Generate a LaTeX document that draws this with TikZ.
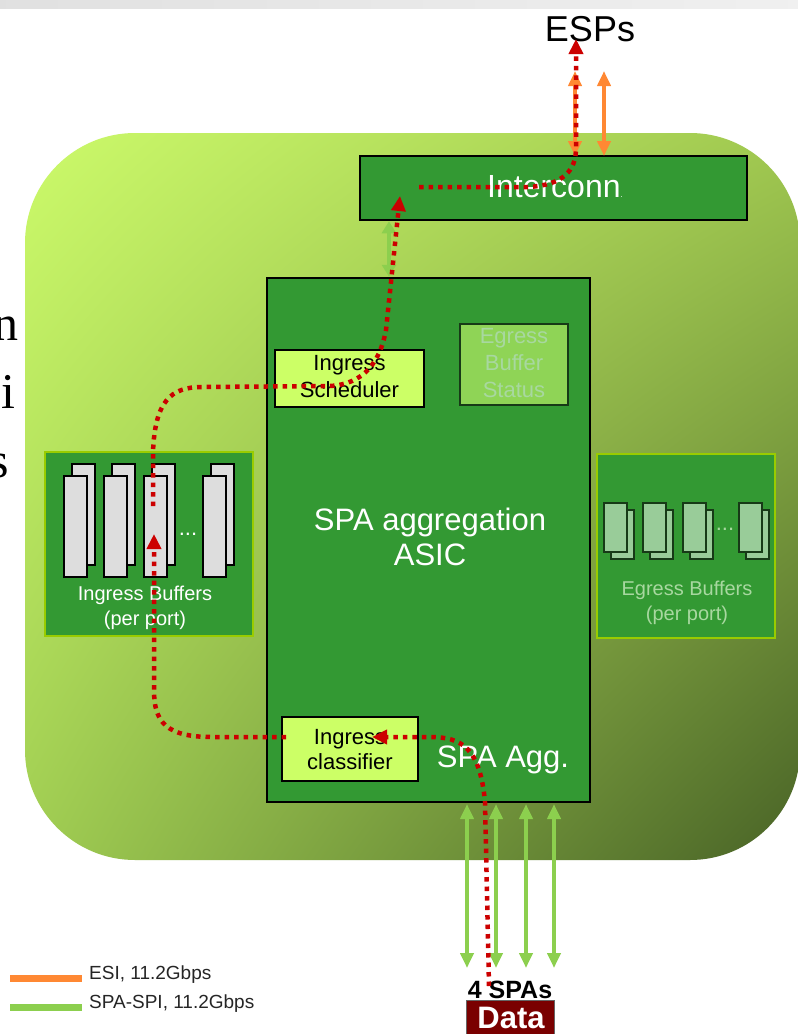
\documentclass[tikz,border=0pt]{standalone}
\usepackage{fontspec}
\setmainfont{Liberation Sans}
\newfontfamily\seriffont{Liberation Serif}
\usetikzlibrary{arrows.meta,shadings}
\definecolor{boxgreen}{HTML}{339933}
\definecolor{limeedge}{HTML}{99CC00}
\definecolor{paleyellow}{HTML}{CCFF66}
\definecolor{statusfill}{HTML}{8FD456}
\definecolor{paletext}{HTML}{A8D8A0}
\definecolor{flowred}{HTML}{CC0000}
\definecolor{esiorange}{HTML}{FF8833}
\definecolor{linkgreen}{HTML}{8CCF4E}
\definecolor{bufgrey}{HTML}{DDDDDD}
\definecolor{bufpale}{HTML}{99CC99}
\definecolor{bufedge}{HTML}{173A17}
\definecolor{datared}{HTML}{7A0000}
\newcommand\fsz[2]{\fontsize{#1}{#2}\selectfont}
\begin{document}
\begin{tikzpicture}[x=1pt,y=-1pt,
  redflow/.style={draw=flowred, line width=4.5pt, dash pattern=on 4.5pt off 5pt,
    -{Triangle[length=15pt,width=14pt]}},
  spalink/.style={draw=linkgreen, line width=4pt,
    {Triangle[length=15pt,width=13pt]}-{Triangle[length=15pt,width=13pt]}},
  shortlink/.style={draw=linkgreen, line width=4pt,
    {Triangle[length=12pt,width=14pt]}-{Triangle[length=12pt,width=14pt]}},
  esilink/.style={draw=esiorange, line width=4pt,
    {Triangle[length=15pt,width=13pt]}-{Triangle[length=15pt,width=13pt]}},
  darkbox/.style={draw=black, line width=2.5pt, fill=boxgreen, inner sep=0pt},
  limebox/.style={draw=limeedge, line width=2.5pt, fill=boxgreen, inner sep=0pt},
  palebox/.style={draw=black, line width=2.5pt, fill=paleyellow, inner sep=0pt},
  whitelabel/.style={text=white, align=center, inner sep=0pt},
  darklabel/.style={text=black, align=center, inner sep=0pt},
  fadedlabel/.style={text=paletext, align=center, inner sep=0pt},
  legendlabel/.style={text=black!85, anchor=west, inner sep=0pt, font=\fsz{19}{22}},
]
\useasboundingbox (0,0) rectangle (798,1034);
\clip (0,0) rectangle (798,1034);
\fill[white] (0,0) rectangle (798,1034);

% thin grey band along the top
\shade[left color=black!12, right color=black!6] (0,0) rectangle (798,8);

% cut-off words on the left margin
\node[anchor=base east, inner sep=0pt, font=\seriffont\fsz{50}{56}] (wordn) at (19,340) {n};
\node[anchor=base east, inner sep=0pt, font=\seriffont\fsz{50}{56}] (wordi) at (16,408) {i};
\node[anchor=base east, inner sep=0pt, font=\seriffont\fsz{50}{56}] (words) at (9,477) {s};

% line card background
\path[upper left={rgb,255:red,204;green,250;blue,106},
      upper right={rgb,255:red,160;green,200;blue,80},
      lower left={rgb,255:red,160;green,205;blue,82},
      lower right={rgb,255:red,72;green,98;blue,38},
      rounded corners=110pt] (25,133) rectangle (800,860);

% main blocks
\node[darkbox, minimum width=387pt, minimum height=64pt] (ic) at (553.5,188) {};
\node[darkbox, minimum width=323pt, minimum height=524pt] (asic) at (428.5,540) {};
\node[palebox, minimum width=149pt, minimum height=57pt] (sched) at (349.5,378.5) {};
\node[draw=bufedge, line width=2.5pt, fill=statusfill, inner sep=0pt,
      minimum width=108pt, minimum height=81pt] (status) at (514,364.5) {};
\node[palebox, minimum width=136pt, minimum height=64pt] (classif) at (350,749) {};
\node[limebox, minimum width=208pt, minimum height=184pt] (inbuf) at (149,544) {};
\node[limebox, minimum width=178pt, minimum height=184pt] (egbuf) at (686,546) {};

% ingress buffer stacks
\foreach \bx in {64,104,144,203}{
  \draw[black, line width=2.5pt, fill=bufgrey] (\bx+8,464) rectangle (\bx+31,565);
  \draw[black, line width=2.5pt, fill=bufgrey] (\bx,476) rectangle (\bx+23,577);
}
\node[whitelabel, font=\fsz{22}{24}] (indots) at (188,534) {...};

% egress buffer stacks
\foreach \bx in {604,643,683,739}{
  \draw[bufedge, line width=2.5pt, fill=bufpale] (\bx+7,510) rectangle (\bx+30,559);
  \draw[bufedge, line width=2.5pt, fill=bufpale] (\bx,503) rectangle (\bx+23,552);
}
\node[fadedlabel, font=\fsz{22}{24}] (egdots) at (725,529) {...};

% labels
\node[whitelabel, font=\fsz{32}{36}] (iclabel) at (555,187) {Interconn{\fsz{8}{8}.}};
\node[darklabel, font=\fsz{22}{27}] (schedlabel) at (349.5,377) {Ingress\\Scheduler};
\node[fadedlabel, font=\fsz{22}{27}] (statuslabel) at (514,363) {Egress\\Buffer\\Status};
\node[whitelabel, font=\fsz{31}{35}] (asiclabel) at (430,537) {SPA aggregation\\ASIC};
\node[darklabel, font=\fsz{22}{25}] (classlabel) at (350,749.5) {Ingress\\classifier};
\node[whitelabel, font=\fsz{31}{35}] (agglabel) at (503,760) {SPA Agg.};
\node[whitelabel, font=\fsz{20}{25}] (inbuflabel) at (145,607.5) {Ingress Buffers\\(per port)};
\node[fadedlabel, font=\fsz{20}{25}] (egbuflabel) at (687,602.5) {Egress Buffers\\(per port)};
\node[darklabel, font=\fsz{36}{40}] (esps) at (590,29) {ESPs};

% link arrows
\coordinate (e1top) at (575,71);  \coordinate (e1bot) at (575,156);
\coordinate (e2top) at (604,71);  \coordinate (e2bot) at (604,156);
\draw[esilink] (e1top) -- (e1bot);
\draw[esilink] (e2top) -- (e2bot);
\draw[shortlink] (ic.south -| 389,0) -- (asic.north -| 389,0);
\foreach \gx [count=\i] in {467,496,526,554}{
  \coordinate (spa\i top) at (\gx,804);
  \coordinate (spa\i bot) at (\gx,968);
  \draw[spalink] (spa\i top) -- (spa\i bot);
}

% SPA side
\node[darklabel, font=\bfseries\fsz{25}{28}] (spas) at (510,990) {4 SPAs};
\node[draw=black!60, line width=1pt, fill=datared, text=white, font=\bfseries\fsz{31}{34},
      minimum width=88pt, minimum height=44pt, inner sep=0pt, anchor=north] (data) at (510,1000) {};
\node[whitelabel, font=\bfseries\fsz{31}{34}] (datalabel) at (511,1018) {Data};

% packet flow
\coordinate (flowstart) at (489,986);
\coordinate (clsin) at (372,737);
\coordinate (clsout) at (286,737);
\coordinate (bufin) at (154,534);
\coordinate (bufout) at (153,506);
\coordinate (icin) at (400,196);
\coordinate (icout) at (419,187);
\coordinate (espin) at (576,39);
\draw[redflow] (flowstart) -- (485,802)
  .. controls (480,748) and (462,737) .. (430,737) -- (clsin);
\draw[redflow] (clsout) -- (212,737)
  .. controls (166,737) and (154,722) .. (154,690) -- (bufin);
\draw[redflow] (bufout) -- (153,452)
  .. controls (155,402) and (170,387) .. (202,387) -- (330,386)
  .. controls (364,384) and (380,362) .. (386,330) -- (icin);
\draw[redflow] (icout) -- (528,187)
  .. controls (564,185) and (576,170) .. (576,148) -- (espin);

% legend
\coordinate (esiA) at (10,978);  \coordinate (esiB) at (82,978);
\coordinate (spiA) at (10,1007); \coordinate (spiB) at (82,1007);
\draw[esiorange, line width=7pt] (esiA) -- (esiB);
\draw[linkgreen, line width=7pt] (spiA) -- (spiB);
\node[legendlabel] (esilegend) at (89,975) {ESI, 11.2Gbps};
\node[legendlabel] (spilegend) at (89,1004) {SPA-SPI, 11.2Gbps};
\end{tikzpicture}
\end{document}
